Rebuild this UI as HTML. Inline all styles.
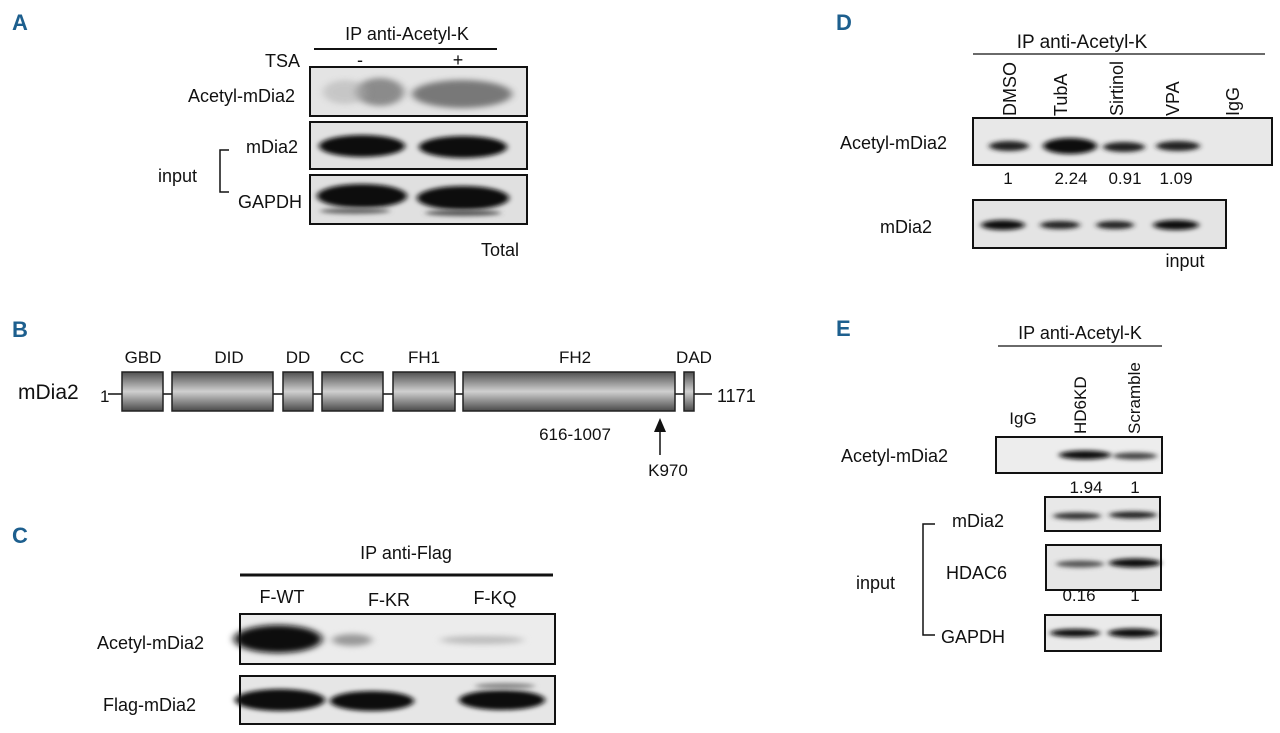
<!DOCTYPE html>
<html><head><meta charset="utf-8"><style>
html,body{margin:0;padding:0;background:#fff;}
svg{display:block;}
text{font-family:"Liberation Sans",sans-serif;fill:#111;}
.L{font-family:"Liberation Sans",sans-serif;font-weight:bold;fill:#1d5f8e;font-size:22px;}
</style></head><body>
<svg width="1280" height="733" viewBox="0 0 1280 733" xmlns="http://www.w3.org/2000/svg">
<defs>
<linearGradient id="g" x1="0" y1="0" x2="0" y2="1">
<stop offset="0" stop-color="#505050"/><stop offset="0.5" stop-color="#d0d0d0"/><stop offset="1" stop-color="#4a4a4a"/>
</linearGradient>
<filter id="b1" x="-30%" y="-100%" width="160%" height="300%"><feGaussianBlur stdDeviation="4 3"/></filter>
<filter id="b2" x="-30%" y="-100%" width="160%" height="300%"><feGaussianBlur stdDeviation="3 2"/></filter>
</defs>

<!-- Panel A -->
<text class="L" x="12" y="30">A</text>
<text x="407" y="40" font-size="18" text-anchor="middle">IP anti-Acetyl-K</text>
<line x1="314" y1="49" x2="497" y2="49" stroke="#111" stroke-width="2"/>
<text x="300" y="67" font-size="18" text-anchor="end">TSA</text>
<text x="360" y="66" font-size="18" text-anchor="middle">-</text>
<text x="458" y="66" font-size="18" text-anchor="middle">+</text>
<rect x="310" y="67" width="217" height="49" fill="#e4e4e4" stroke="#111" stroke-width="2"/>
<ellipse cx="380" cy="92" rx="24" ry="14" fill="#666" filter="url(#b1)" opacity="0.7"/>
<ellipse cx="345" cy="92" rx="22" ry="12" fill="#aaa" filter="url(#b1)" opacity="0.5"/>
<ellipse cx="462" cy="94" rx="50" ry="14" fill="#555" filter="url(#b1)" opacity="0.75"/>
<rect x="310" y="122" width="217" height="47" fill="#e2e2e2" stroke="#111" stroke-width="2"/>
<ellipse cx="362" cy="146" rx="43" ry="11" fill="#111" filter="url(#b2)"/>
<ellipse cx="463" cy="147" rx="44" ry="11" fill="#111" filter="url(#b2)"/>
<rect x="310" y="175" width="217" height="49" fill="#e0e0e0" stroke="#111" stroke-width="2"/>
<ellipse cx="362" cy="196" rx="45" ry="12" fill="#0a0a0a" filter="url(#b2)"/>
<ellipse cx="463" cy="198" rx="46" ry="12" fill="#0a0a0a" filter="url(#b2)"/>
<ellipse cx="355" cy="211" rx="35" ry="3" fill="#666" filter="url(#b2)"/>
<ellipse cx="463" cy="213" rx="38" ry="3" fill="#555" filter="url(#b2)"/>
<text x="295" y="102" font-size="18" text-anchor="end">Acetyl-mDia2</text>
<text x="298" y="153" font-size="18" text-anchor="end">mDia2</text>
<text x="158" y="182" font-size="18">input</text>
<polyline points="229,150 220,150 220,192 229,192" fill="none" stroke="#111" stroke-width="1.5"/>
<text x="302" y="208" font-size="18" text-anchor="end">GAPDH</text>
<text x="500" y="256" font-size="18" text-anchor="middle">Total</text>

<!-- Panel B -->
<text class="L" x="12" y="337">B</text>
<text x="143" y="363" font-size="17" text-anchor="middle">GBD</text>
<text x="229" y="363" font-size="17" text-anchor="middle">DID</text>
<text x="298" y="363" font-size="17" text-anchor="middle">DD</text>
<text x="352" y="363" font-size="17" text-anchor="middle">CC</text>
<text x="424" y="363" font-size="17" text-anchor="middle">FH1</text>
<text x="575" y="363" font-size="17" text-anchor="middle">FH2</text>
<text x="694" y="363" font-size="17" text-anchor="middle">DAD</text>
<text x="18" y="399" font-size="21">mDia2</text>
<text x="100" y="402" font-size="17">1</text>
<line x1="108" y1="394" x2="712" y2="394" stroke="#111" stroke-width="1.5"/>
<g fill="url(#g)" stroke="#222" stroke-width="1.5">
<rect x="122" y="372" width="41" height="39"/>
<rect x="172" y="372" width="101" height="39"/>
<rect x="283" y="372" width="30" height="39"/>
<rect x="322" y="372" width="61" height="39"/>
<rect x="393" y="372" width="62" height="39"/>
<rect x="463" y="372" width="212" height="39"/>
<rect x="684" y="372" width="10" height="39"/>
</g>
<text x="717" y="402" font-size="18">1171</text>
<text x="575" y="440" font-size="17" text-anchor="middle">616-1007</text>
<line x1="660" y1="455" x2="660" y2="428" stroke="#111" stroke-width="1.5"/>
<polygon points="660,418 654,432 666,432" fill="#111"/>
<text x="668" y="476" font-size="17" text-anchor="middle">K970</text>

<!-- Panel C -->
<text class="L" x="12" y="543">C</text>
<text x="406" y="559" font-size="18" text-anchor="middle">IP anti-Flag</text>
<line x1="240" y1="575" x2="553" y2="575" stroke="#111" stroke-width="3"/>
<text x="282" y="603" font-size="18" text-anchor="middle">F-WT</text>
<text x="389" y="606" font-size="18" text-anchor="middle">F-KR</text>
<text x="495" y="604" font-size="18" text-anchor="middle">F-KQ</text>
<rect x="240" y="614" width="315" height="50" fill="#ececec" stroke="#111" stroke-width="2"/>
<ellipse cx="278" cy="639" rx="44" ry="14" fill="#111" filter="url(#b1)"/>
<ellipse cx="352" cy="640" rx="20" ry="6" fill="#999" filter="url(#b1)"/>
<ellipse cx="482" cy="640" rx="42" ry="4" fill="#bbb" filter="url(#b1)"/>
<rect x="240" y="676" width="315" height="48" fill="#e6e6e6" stroke="#111" stroke-width="2"/>
<ellipse cx="280" cy="700" rx="45" ry="11" fill="#0a0a0a" filter="url(#b2)"/>
<ellipse cx="372" cy="701" rx="42" ry="10" fill="#111" filter="url(#b2)"/>
<ellipse cx="502" cy="700" rx="43" ry="10" fill="#111" filter="url(#b2)"/>
<ellipse cx="505" cy="686" rx="30" ry="3" fill="#888" filter="url(#b2)"/>
<text x="97" y="649" font-size="18">Acetyl-mDia2</text>
<text x="103" y="711" font-size="18">Flag-mDia2</text>

<!-- Panel D -->
<text class="L" x="836" y="30">D</text>
<text x="1082" y="48" font-size="19" text-anchor="middle">IP anti-Acetyl-K</text>
<line x1="973" y1="54" x2="1265" y2="54" stroke="#111" stroke-width="1.2"/>
<g font-size="18">
<text transform="translate(1016,116) rotate(-90)">DMSO</text>
<text transform="translate(1067,116) rotate(-90)">TubA</text>
<text transform="translate(1123,116) rotate(-90)">Sirtinol</text>
<text transform="translate(1179,116) rotate(-90)">VPA</text>
<text transform="translate(1239,116) rotate(-90)">IgG</text>
</g>
<rect x="973" y="118" width="299" height="47" fill="#e8e8e8" stroke="#111" stroke-width="2"/>
<ellipse cx="1009" cy="146" rx="20" ry="5" fill="#222" filter="url(#b2)"/>
<ellipse cx="1070" cy="146" rx="27" ry="8" fill="#0a0a0a" filter="url(#b2)"/>
<ellipse cx="1124" cy="147" rx="21" ry="5" fill="#222" filter="url(#b2)"/>
<ellipse cx="1178" cy="146" rx="22" ry="5" fill="#222" filter="url(#b2)"/>
<text x="840" y="149" font-size="18">Acetyl-mDia2</text>
<g font-size="17" text-anchor="middle">
<text x="1008" y="184">1</text><text x="1071" y="184">2.24</text><text x="1125" y="184">0.91</text><text x="1176" y="184">1.09</text>
</g>
<rect x="973" y="200" width="253" height="48" fill="#e4e4e4" stroke="#111" stroke-width="2"/>
<ellipse cx="1003" cy="225" rx="22" ry="5" fill="#111" filter="url(#b2)"/>
<ellipse cx="1060" cy="225" rx="20" ry="4" fill="#222" filter="url(#b2)"/>
<ellipse cx="1115" cy="225" rx="19" ry="4" fill="#222" filter="url(#b2)"/>
<ellipse cx="1176" cy="225" rx="23" ry="5" fill="#111" filter="url(#b2)"/>
<text x="880" y="233" font-size="18">mDia2</text>
<text x="1185" y="267" font-size="18" text-anchor="middle">input</text>

<!-- Panel E -->
<text class="L" x="836" y="336">E</text>
<text x="1080" y="339" font-size="18" text-anchor="middle">IP anti-Acetyl-K</text>
<line x1="998" y1="346" x2="1162" y2="346" stroke="#111" stroke-width="1.2"/>
<text x="1023" y="424" font-size="17" text-anchor="middle">IgG</text>
<g font-size="17">
<text transform="translate(1086,434) rotate(-90)">HD6KD</text>
<text transform="translate(1140,434) rotate(-90)">Scramble</text>
</g>
<rect x="996" y="437" width="166" height="36" fill="#ededed" stroke="#111" stroke-width="2"/>
<ellipse cx="1085" cy="455" rx="26" ry="4.5" fill="#0a0a0a" filter="url(#b2)"/>
<ellipse cx="1135" cy="456" rx="22" ry="3.5" fill="#444" filter="url(#b2)"/>
<text x="841" y="462" font-size="18">Acetyl-mDia2</text>
<g font-size="17" text-anchor="middle"><text x="1086" y="493">1.94</text><text x="1135" y="493">1</text></g>
<rect x="1045" y="497" width="115" height="34" fill="#e8e8e8" stroke="#111" stroke-width="2"/>
<ellipse cx="1077" cy="516" rx="24" ry="3.5" fill="#333" filter="url(#b2)"/>
<ellipse cx="1133" cy="515" rx="24" ry="3.5" fill="#222" filter="url(#b2)"/>
<text x="952" y="527" font-size="18">mDia2</text>
<rect x="1046" y="545" width="115" height="45" fill="#e6e6e6" stroke="#111" stroke-width="2"/>
<ellipse cx="1080" cy="564" rx="24" ry="3.5" fill="#555" filter="url(#b2)"/>
<ellipse cx="1135" cy="563" rx="26" ry="4.5" fill="#0a0a0a" filter="url(#b2)"/>
<text x="946" y="579" font-size="18">HDAC6</text>
<g font-size="17" text-anchor="middle"><text x="1079" y="601">0.16</text><text x="1135" y="601">1</text></g>
<rect x="1045" y="615" width="116" height="36" fill="#eaeaea" stroke="#111" stroke-width="2"/>
<ellipse cx="1075" cy="633" rx="25" ry="4" fill="#0a0a0a" filter="url(#b2)"/>
<ellipse cx="1133" cy="633" rx="25" ry="4.5" fill="#0a0a0a" filter="url(#b2)"/>
<text x="941" y="643" font-size="18">GAPDH</text>
<text x="856" y="589" font-size="18">input</text>
<polyline points="935,524 923,524 923,635 935,635" fill="none" stroke="#111" stroke-width="1.5"/>
</svg>
</body></html>
